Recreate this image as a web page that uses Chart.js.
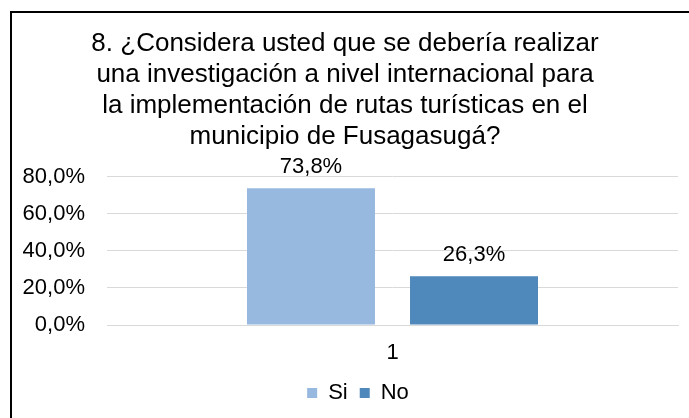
<!DOCTYPE html>
<html lang="es">
<head>
    <meta charset="UTF-8">
    <title>Investigación a nivel internacional</title>
    <script src="https://cdn.jsdelivr.net/npm/chart.js"></script>
    <style>
        body {
            margin: 0;
            background-color: #fff;
            overflow: hidden;
        }

        .chart-box {
            position: absolute;
            left: 10px;
            top: 11px;
            width: 700px;
            height: 420px;
            border: 2px solid #000;
        }

        .chart-wrap {
            position: relative;
            width: 668px;
            height: 405px;
        }
    </style>
</head>
<body>
    <div class="chart-box">
        <div class="chart-wrap">
            <canvas id="encuestaChart"></canvas>
        </div>
    </div>

    <script>
        // Data
        const categories = ['1'];
        const siValues = [73.8];
        const noValues = [26.3];
        const yTicks = [0, 20, 40, 60, 80];

        const titleLines = [
            '8. ¿Considera usted que se debería realizar',
            'una investigación a nivel internacional para',
            'la implementación de rutas turísticas en el',
            'municipio de Fusagasugá?'
        ];

        const fontFamily = '"Liberation Sans", Arial, sans-serif';

        // value -> "73,8%"
        function pct(v) {
            return v.toFixed(1).replace('.', ',') + '%';
        }

        // Labels above each bar
        const barLabels = {
            id: 'barLabels',
            afterDatasetsDraw(chart) {
                const ctx = chart.ctx;
                ctx.save();
                ctx.font = '22px ' + fontFamily;
                ctx.fillStyle = '#000';
                ctx.textAlign = 'center';
                ctx.textBaseline = 'middle';
                chart.data.datasets.forEach((ds, i) => {
                    chart.getDatasetMeta(i).data.forEach((bar, j) => {
                        ctx.fillText(pct(ds.data[j]), bar.x, bar.y - 21);
                    });
                });
                ctx.restore();
            }
        };

        // the legend sits a bit right of the title in the original
        const legendShift = {
            id: 'legendShift',
            afterLayout(chart) {
                chart.legend.left += 13;
                chart.legend.right += 13;
            }
        };

        new Chart(document.getElementById('encuestaChart'), {
            type: 'bar',
            data: {
                labels: categories,
                datasets: [
                    {
                        label: 'Si',
                        data: siValues,
                        backgroundColor: '#97B8DF',
                        categoryPercentage: 0.571,
                        barPercentage: 0.785
                    },
                    {
                        label: 'No',
                        data: noValues,
                        backgroundColor: '#4F88BB',
                        categoryPercentage: 0.571,
                        barPercentage: 0.785
                    }
                ]
            },
            options: {
                responsive: true,
                maintainAspectRatio: false,
                animation: false,
                layout: {
                    padding: { left: 0, right: 2, top: 0, bottom: 4 }
                },
                plugins: {
                    title: {
                        display: true,
                        text: titleLines,
                        color: '#000',
                        font: { family: fontFamily, size: 26, weight: 'normal', lineHeight: 1.2 },
                        padding: { top: 15, bottom: 24 }
                    },
                    legend: {
                        position: 'bottom',
                        labels: {
                            color: '#000',
                            boxWidth: 10,
                            boxHeight: 10,
                            padding: 12,
                            font: { family: fontFamily, size: 22 }
                        }
                    },
                    tooltip: { enabled: false }
                },
                scales: {
                    x: {
                        grid: { display: false, drawTicks: false },
                        border: { color: '#D9D9D9' },
                        ticks: {
                            color: '#000',
                            padding: 15,
                            font: { family: fontFamily, size: 22 }
                        },
                        afterFit(axis) {
                            axis.height = 45;
                        }
                    },
                    y: {
                        min: 0,
                        max: yTicks[yTicks.length - 1],
                        afterBuildTicks(axis) {
                            axis.ticks = yTicks.map(v => ({ value: v }));
                        },
                        afterFit(axis) {
                            axis.width = 95;
                        },
                        grid: { color: '#D9D9D9', drawTicks: false },
                        border: { display: false },
                        ticks: {
                            color: '#000',
                            padding: 22,
                            font: { family: fontFamily, size: 22 },
                            callback: v => pct(v)
                        }
                    }
                }
            },
            plugins: [barLabels, legendShift]
        });
    </script>
</body>
</html>
